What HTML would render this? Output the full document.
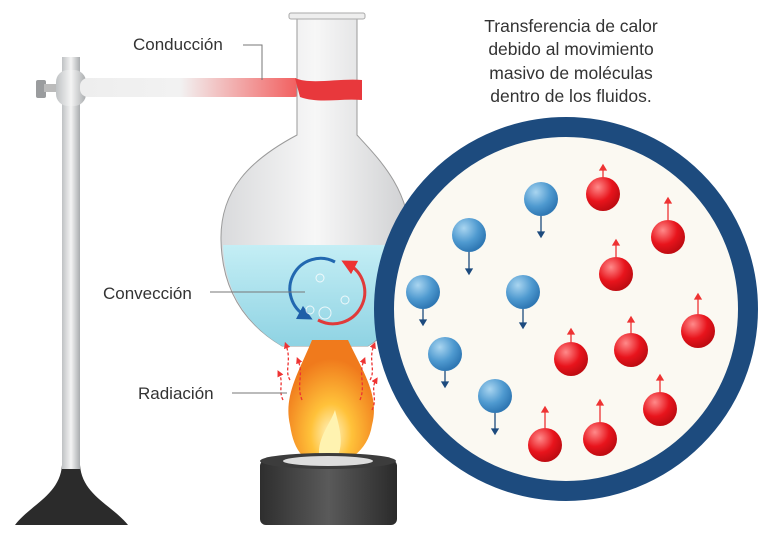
<!DOCTYPE html>
<html><head><meta charset="utf-8"><style>
html,body{margin:0;padding:0;background:#fff}
svg{display:block}
text{font-family:"Liberation Sans",sans-serif;fill:#333}
</style></head><body>
<svg width="770" height="534" viewBox="0 0 770 534" xmlns="http://www.w3.org/2000/svg">
<defs>
<linearGradient id="rod" x1="0" x2="1"><stop offset="0" stop-color="#bfc2c4"/><stop offset=".5" stop-color="#f4f4f4"/><stop offset="1" stop-color="#a9acae"/></linearGradient>
<linearGradient id="arm" x1="0" x2="1"><stop offset="0" stop-color="#eee"/><stop offset=".45" stop-color="#f2f2f2"/><stop offset="1" stop-color="#f25a5a"/></linearGradient>
<linearGradient id="glass" x1="0" x2="1"><stop offset="0" stop-color="#d9dadc"/><stop offset=".5" stop-color="#f7f7f7"/><stop offset="1" stop-color="#cfd0d2"/></linearGradient>
<linearGradient id="water" x1="0" y1="0" x2="0" y2="1"><stop offset="0" stop-color="#c4eef5"/><stop offset="1" stop-color="#8fd3e3"/></linearGradient>
<radialGradient id="flame" cx=".5" cy=".75" r=".6"><stop offset="0" stop-color="#fff6c8"/><stop offset=".4" stop-color="#ffc23a"/><stop offset="1" stop-color="#f07a1c"/></radialGradient>
<radialGradient id="blue" cx=".35" cy=".3" r=".7"><stop offset="0" stop-color="#a9d5f0"/><stop offset=".6" stop-color="#4f9ad0"/><stop offset="1" stop-color="#2f78b4"/></radialGradient>
<radialGradient id="red" cx=".35" cy=".3" r=".7"><stop offset="0" stop-color="#ff8a8a"/><stop offset=".6" stop-color="#e8141c"/><stop offset="1" stop-color="#c00c12"/></radialGradient>
<linearGradient id="burn" x1="0" x2="1"><stop offset="0" stop-color="#2e2e2e"/><stop offset=".5" stop-color="#5a5a5a"/><stop offset="1" stop-color="#2a2a2a"/></linearGradient>
<marker id="au" viewBox="0 0 6 6" refX="3" refY="3" markerWidth="5" markerHeight="5" orient="auto"><path d="M0,0L6,3L0,6z" fill="#e33"/></marker>
<marker id="ab" viewBox="0 0 6 6" refX="3" refY="3" markerWidth="5" markerHeight="5" orient="auto"><path d="M0,0L6,3L0,6z" fill="#1f5fa8"/></marker>
</defs>

<!-- stand -->
<path d="M62 465 C60 495 30 505 15 525 L128 525 C112 505 82 495 80 465 Z" fill="#2b2b2b"/>
<rect x="62" y="57" width="18" height="412" fill="url(#rod)"/>
<rect x="36" y="80" width="10" height="18" rx="2" fill="#9a9c9e"/>
<rect x="44" y="84" width="14" height="8" fill="#bbb"/>
<rect x="56" y="70" width="30" height="36" rx="12" fill="url(#rod)"/>
<rect x="80" y="78" width="222" height="19" rx="8" fill="url(#arm)"/>

<!-- flask -->
<path d="M297 18 L297 135 C250 160 220 190 221 240 C222 300 255 330 282 346 L368 346 C395 330 410 300 410 240 C410 190 380 160 357 135 L357 18 Z" fill="url(#glass)" stroke="#9a9a9a" stroke-width="1"/>
<rect x="289" y="13" width="76" height="6" rx="2" fill="#eee" stroke="#aaa"/>
<path d="M223 245 L409 245 C408 300 392 330 368 346 L282 346 C255 330 225 300 223 245 Z" fill="url(#water)"/>
<path d="M295 78 C310 85 340 78 362 80 L362 100 C340 98 320 104 300 97 Z" fill="#e8383c"/>
<!-- convection -->
<path d="M335 262 A30 30 0 0 0 306 316" fill="none" stroke="#2268b0" stroke-width="3" marker-end="url(#ab)"/>
<path d="M318 320 A30 30 0 0 0 348 264" fill="none" stroke="#e03a3a" stroke-width="3" marker-end="url(#au)"/>
<g fill="none" stroke="#fff" stroke-width="1" opacity=".8"><circle cx="325" cy="313" r="6"/><circle cx="310" cy="310" r="4"/><circle cx="345" cy="300" r="4"/><circle cx="320" cy="278" r="4"/></g>

<!-- flame -->
<path d="M290 425 C283 395 300 370 312 340 L348 340 C362 370 380 395 372 425 C368 452 345 465 328 465 C305 465 294 452 290 425 Z" fill="url(#flame)"/>
<path d="M320 460 C315 440 330 425 335 410 C340 430 345 445 335 462 Z" fill="#fff3b0"/>
<g stroke="#e33" stroke-width="1.3" fill="none" stroke-dasharray="3 2" marker-end="url(#au)">
<path d="M290 380 C284 370 292 362 286 345"/><path d="M302 400 C296 385 304 375 298 360"/><path d="M283 400 C278 390 284 383 279 373"/>
<path d="M360 400 C366 385 358 375 364 360"/><path d="M370 380 C376 370 368 360 374 345"/><path d="M372 410 C378 398 370 390 376 380"/></g>

<!-- burner -->
<rect x="260" y="460" width="137" height="65" rx="6" fill="url(#burn)"/>
<ellipse cx="328" cy="461" rx="68" ry="8" fill="#3c3c3c"/>
<ellipse cx="328" cy="461" rx="45" ry="5" fill="#ddd"/>

<!-- circle -->
<circle cx="566" cy="309" r="182" fill="#fbf9f2" stroke="#1d4b7e" stroke-width="20"/>
<g stroke="#1d4b7e" stroke-width="1.3" fill="#1d4b7e">
<path d="M541 216V235"/><path d="M538 232h6l-3 5z"/>
<path d="M469 252V272"/><path d="M466 269h6l-3 5z"/>
<path d="M423 309V323"/><path d="M420 320h6l-3 5z"/>
<path d="M523 309V326"/><path d="M520 323h6l-3 5z"/>
<path d="M445 371V385"/><path d="M442 382h6l-3 5z"/>
<path d="M495 413V432"/><path d="M492 429h6l-3 5z"/>
</g>
<g fill="url(#blue)"><circle cx="541" cy="199" r="17"/><circle cx="469" cy="235" r="17"/><circle cx="423" cy="292" r="17"/><circle cx="523" cy="292" r="17"/><circle cx="445" cy="354" r="17"/><circle cx="495" cy="396" r="17"/></g>
<g stroke="#e33" stroke-width="1.3" fill="#e33">
<path d="M603 177V168"/><path d="M600 170h6l-3-5z"/>
<path d="M668 220V201"/><path d="M665 203h6l-3-5z"/>
<path d="M616 257V243"/><path d="M613 245h6l-3-5z"/>
<path d="M698 314V297"/><path d="M695 299h6l-3-5z"/>
<path d="M571 342V332"/><path d="M568 334h6l-3-5z"/>
<path d="M631 333V320"/><path d="M628 322h6l-3-5z"/>
<path d="M660 392V378"/><path d="M657 380h6l-3-5z"/>
<path d="M545 428V410"/><path d="M542 412h6l-3-5z"/>
<path d="M600 422V403"/><path d="M597 405h6l-3-5z"/>
</g>
<g fill="url(#red)"><circle cx="603" cy="194" r="17"/><circle cx="668" cy="237" r="17"/><circle cx="616" cy="274" r="17"/><circle cx="698" cy="331" r="17"/><circle cx="571" cy="359" r="17"/><circle cx="631" cy="350" r="17"/><circle cx="660" cy="409" r="17"/><circle cx="545" cy="445" r="17"/><circle cx="600" cy="439" r="17"/></g>

<!-- labels -->
<g font-size="17"><text x="133" y="50">Conducción</text><text x="103" y="299">Convección</text><text x="138" y="399">Radiación</text></g>
<g stroke="#777" fill="none" stroke-width="1"><path d="M243 45H262V80"/><path d="M210 292H305"/><path d="M232 393H287"/></g>
<g font-size="17.5" text-anchor="middle"><text x="571" y="32">Transferencia de calor</text><text x="571" y="55">debido al movimiento</text><text x="571" y="79">masivo de moléculas</text><text x="571" y="102">dentro de los fluidos.</text></g>
</svg>
</body></html>
